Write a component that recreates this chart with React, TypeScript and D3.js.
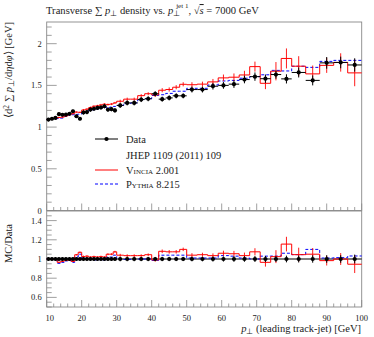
import React from 'react';
import * as d3 from 'd3';

// bin edges of leading track-jet pT [GeV]
const binEdges = [
  10, 11, 12, 13, 14, 15, 16, 17, 18, 19, 20, 21, 22, 23, 24, 25, 26, 27, 28, 29, 30,
  32, 34, 36, 38, 40, 42, 44, 46, 48, 50,
  53, 56, 59, 62, 65, 68, 71, 74, 77, 80,
  84, 88, 92, 96, 100,
];

const dataVals = [
  1.09, 1.1, 1.11, 1.155, 1.148, 1.15, 1.16, 1.19, 1.13, 1.1,
  1.175, 1.18, 1.21, 1.22, 1.23, 1.235, 1.25, 1.21, 1.215, 1.2,
  1.26, 1.29, 1.29, 1.33, 1.34, 1.4, 1.335, 1.35, 1.375, 1.375,
  1.45, 1.45, 1.49, 1.5, 1.515, 1.57, 1.605, 1.58, 1.63, 1.578,
  1.655, 1.56, 1.77, 1.775, 1.745,
];
const dataErrs = [
  0.02, 0.02, 0.02, 0.02, 0.02, 0.02, 0.02, 0.02, 0.02, 0.02,
  0.025, 0.025, 0.025, 0.025, 0.025, 0.025, 0.025, 0.025, 0.025, 0.025,
  0.03, 0.03, 0.03, 0.03, 0.03, 0.03, 0.03, 0.03, 0.03, 0.03,
  0.035, 0.035, 0.04, 0.04, 0.045, 0.045, 0.05, 0.05, 0.05, 0.055,
  0.06, 0.06, 0.07, 0.07, 0.08,
];

const vinciaVals = [
  1.09, 1.1, 1.105, 1.115, 1.12, 1.133, 1.148, 1.16, 1.18, 1.177,
  1.205, 1.215, 1.234, 1.25, 1.255, 1.266, 1.275, 1.27, 1.276, 1.29,
  1.31, 1.335, 1.335, 1.377, 1.4, 1.386, 1.442, 1.451, 1.478, 1.513,
  1.508, 1.515, 1.542, 1.59, 1.598, 1.625, 1.725, 1.525, 1.67, 1.823,
  1.73, 1.638, 1.74, 1.775, 1.65,
];
const vinciaErrs = [
  0.008, 0.008, 0.008, 0.008, 0.008, 0.008, 0.008, 0.008, 0.008, 0.008,
  0.012, 0.012, 0.012, 0.012, 0.012, 0.012, 0.012, 0.012, 0.012, 0.012,
  0.018, 0.018, 0.018, 0.018, 0.018, 0.025, 0.025, 0.025, 0.025, 0.025,
  0.03, 0.03, 0.035, 0.04, 0.045, 0.05, 0.06, 0.07, 0.11, 0.12,
  0.12, 0.1, 0.09, 0.11, 0.16,
];

const pythiaVals = [
  1.09, 1.1, 1.1, 1.103, 1.108, 1.127, 1.143, 1.148, 1.153, 1.155,
  1.175, 1.18, 1.204, 1.208, 1.218, 1.229, 1.238, 1.234, 1.24, 1.248,
  1.26, 1.284, 1.29, 1.33, 1.34, 1.379, 1.388, 1.404, 1.43, 1.43,
  1.465, 1.465, 1.505, 1.553, 1.56, 1.586, 1.605, 1.627, 1.68, 1.673,
  1.73, 1.716, 1.788, 1.8, 1.8,
];

const mainTicks = [0, 0.5, 1, 1.5, 2];
const ratioTicks = [0.6, 0.8, 1, 1.2, 1.4];
const xTicks = [10, 20, 30, 40, 50, 60, 70, 80, 90, 100];

const FONT = 'Liberation Serif, serif';
const GRID = '#888';

export default function App() {
  const left = 46.7, right = 361.7;
  const x = d3.scaleLinear().domain([10, 100]).range([left, right]);
  const y = d3.scaleLinear().domain([0, 2.26]).range([210.5, 22]);
  const yr = d3.scaleLinear().domain([0.5, 1.5]).range([307, 211]);

  const bins = dataVals.map((v, i) => ({
    lo: binEdges[i], hi: binEdges[i + 1], mid: (binEdges[i] + binEdges[i + 1]) / 2,
    d: v, de: dataErrs[i], vin: vinciaVals[i], ve: vinciaErrs[i], py: pythiaVals[i],
  }));

  const stepLine = (vals: number[], ys: d3.ScaleLinear<number, number>) => {
    const pts: [number, number][] = [];
    vals.forEach((v, i) => { pts.push([binEdges[i], v]); pts.push([binEdges[i + 1], v]); });
    return d3.line<[number, number]>().x(p => x(p[0])).y(p => ys(p[1]))(pts) || '';
  };

  const minorMain = d3.range(0, 2.26, 0.1).filter(v => Math.abs(v * 2 - Math.round(v * 2)) > 0.01);
  const minorRatio = d3.range(0.5, 1.5, 0.05).filter(v => Math.abs(v * 5 - Math.round(v * 5)) > 0.01);
  const minorX = d3.range(12, 100, 2).filter(v => v % 10 !== 0);

  const ratioVin = vinciaVals.map((v, i) => v / dataVals[i]);
  const ratioPy = pythiaVals.map((v, i) => v / dataVals[i]);

  const xTickMarks = (bottom: number) => (
    <g stroke={GRID} strokeWidth={0.8}>
      {xTicks.map(t => <line key={'M' + t} x1={x(t)} x2={x(t)} y1={bottom} y2={bottom - 7} />)}
      {minorX.map(t => <line key={'m' + t} x1={x(t)} x2={x(t)} y1={bottom} y2={bottom - 3.5} />)}
    </g>
  );

  return (
    <svg width={374} height={337} style={{ position: 'absolute', left: 0, top: 0, background: '#fff' }}
      fontFamily={FONT}>
      {/* title */}
      <text x={46} y={14} fontSize={10.6} fill="#222">
        Transverse ∑ <tspan fontStyle="italic">p</tspan>
        <tspan fontSize={7.5} dy={2}>⊥</tspan>
        <tspan dy={-2}> density vs. </tspan>
        <tspan fontStyle="italic">p</tspan>
        <tspan fontSize={7.5} dy={2}>⊥</tspan>
        <tspan fontSize={7} dx={-4} dy={-8}>jet 1</tspan>
        <tspan dy={6}>, √</tspan>
        <tspan fontStyle="italic" textDecoration="overline">s</tspan>
        <tspan> = 7000 GeV</tspan>
      </text>

      {/* main panel ticks */}
      <g stroke={GRID} strokeWidth={0.8}>
        {mainTicks.map(t => <line key={t} x1={left} x2={left + 10} y1={y(t)} y2={y(t)} />)}
        {minorMain.map(t => <line key={t} x1={left} x2={left + 5} y1={y(t)} y2={y(t)} />)}
      </g>
      {mainTicks.map(t => (
        <text key={t} x={left - 5} y={y(t) + 3} fontSize={8.5} textAnchor="end" fill="#222">{t}</text>
      ))}
      {xTickMarks(210.5)}

      {/* ratio panel ticks */}
      <g stroke={GRID} strokeWidth={0.8}>
        {ratioTicks.map(t => <line key={t} x1={left} x2={left + 10} y1={yr(t)} y2={yr(t)} />)}
        {minorRatio.map(t => <line key={t} x1={left} x2={left + 5} y1={yr(t)} y2={yr(t)} />)}
      </g>
      {ratioTicks.map(t => (
        <text key={t} x={left - 5} y={yr(t) + 3} fontSize={8.5} textAnchor="end" fill="#222">{t}</text>
      ))}
      {xTickMarks(307)}
      {xTicks.map(t => (
        <text key={t} x={t === 10 ? x(t) + 3 : x(t)} y={321} fontSize={8.5} textAnchor="middle" fill="#222">{t}</text>
      ))}

      {/* frames */}
      <rect x={left} y={22} width={right - left} height={188.5} fill="none" stroke={GRID} strokeWidth={0.9} />
      <rect x={left} y={211} width={right - left} height={96} fill="none" stroke={GRID} strokeWidth={0.9} />

      {/* axis labels */}
      <text x={361} y={332} fontSize={10.5} textAnchor="end" fill="#222">
        <tspan fontStyle="italic">p</tspan><tspan fontSize={7.5} dy={2}>⊥</tspan>
        <tspan dy={-2}> (leading track-jet) [GeV]</tspan>
      </text>
      <text transform="translate(12,22) rotate(-90)" fontSize={10.5} textAnchor="end" fill="#222">
        ⟨d<tspan fontSize={7.5} dy={-3.5}>2</tspan><tspan dy={3.5}> ∑ </tspan>
        <tspan fontStyle="italic">p</tspan><tspan fontSize={7.5} dy={2}>⊥</tspan>
        <tspan dy={-2}>/d</tspan><tspan fontStyle="italic">η</tspan>
        <tspan>d</tspan><tspan fontStyle="italic">φ</tspan><tspan>⟩ [GeV]</tspan>
      </text>
      <text transform="translate(12,224) rotate(-90)" fontSize={10.5} textAnchor="end" fill="#222">MC/Data</text>

      {/* main panel: MC */}
      <path d={stepLine(pythiaVals, y)} fill="none" stroke="#0000ff" strokeWidth={1} strokeDasharray="3,2" />
      <path d={stepLine(vinciaVals, y)} fill="none" stroke="#ff0000" strokeWidth={1} />
      <g stroke="#ff0000" strokeWidth={0.9}>
        {bins.map((b, i) => (
          <line key={i} x1={x(b.mid)} x2={x(b.mid)} y1={y(b.vin - b.ve)} y2={y(b.vin + b.ve)} />
        ))}
      </g>
      {/* main panel: data */}
      <g stroke="#000" strokeWidth={1}>
        {bins.map((b, i) => (
          <g key={i}>
            <line x1={x(b.lo)} x2={x(b.hi)} y1={y(b.d)} y2={y(b.d)} />
            <line x1={x(b.mid)} x2={x(b.mid)} y1={y(b.d - b.de)} y2={y(b.d + b.de)} />
          </g>
        ))}
      </g>
      {bins.map((b, i) => <circle key={i} cx={x(b.mid)} cy={y(b.d)} r={2.1} fill="#000" />)}

      {/* ratio panel */}
      <line x1={left} x2={right} y1={yr(1)} y2={yr(1)} stroke="#000" strokeWidth={1.2} />
      <path d={stepLine(ratioPy, yr)} fill="none" stroke="#0000ff" strokeWidth={1} strokeDasharray="3,2" />
      <path d={stepLine(ratioVin, yr)} fill="none" stroke="#ff0000" strokeWidth={1} />
      <g stroke="#ff0000" strokeWidth={0.9}>
        {bins.map((b, i) => (
          <line key={i} x1={x(b.mid)} x2={x(b.mid)}
            y1={yr(ratioVin[i] - b.ve / b.d)} y2={yr(ratioVin[i] + b.ve / b.d)} />
        ))}
      </g>
      <g stroke="#000" strokeWidth={1}>
        {bins.map((b, i) => (
          <line key={i} x1={x(b.mid)} x2={x(b.mid)} y1={yr(1 - b.de / b.d)} y2={yr(1 + b.de / b.d)} />
        ))}
      </g>
      {bins.map((b, i) => <circle key={i} cx={x(b.mid)} cy={yr(1)} r={2.1} fill="#000" />)}

      {/* legend */}
      <line x1={95} x2={118} y1={139} y2={139} stroke="#000" strokeWidth={1} />
      <circle cx={106.5} cy={139} r={2.1} fill="#000" />
      <text x={126} y={142.5} fontSize={10.5} fill="#222">Data</text>
      <text x={126} y={158.5} fontSize={10.5} fill="#222">JHEP 1109 (2011) 109</text>
      <line x1={95} x2={118} y1={170} y2={170} stroke="#ff0000" strokeWidth={1} />
      <text x={126} y={173.5} fontSize={10.5} fill="#222" fontVariant="small-caps">Vincia 2.001</text>
      <line x1={95} x2={118} y1={184} y2={184} stroke="#0000ff" strokeWidth={1} strokeDasharray="3,2" />
      <text x={126} y={187.5} fontSize={10.5} fill="#222" fontVariant="small-caps">Pythia 8.215</text>
    </svg>
  );
}
